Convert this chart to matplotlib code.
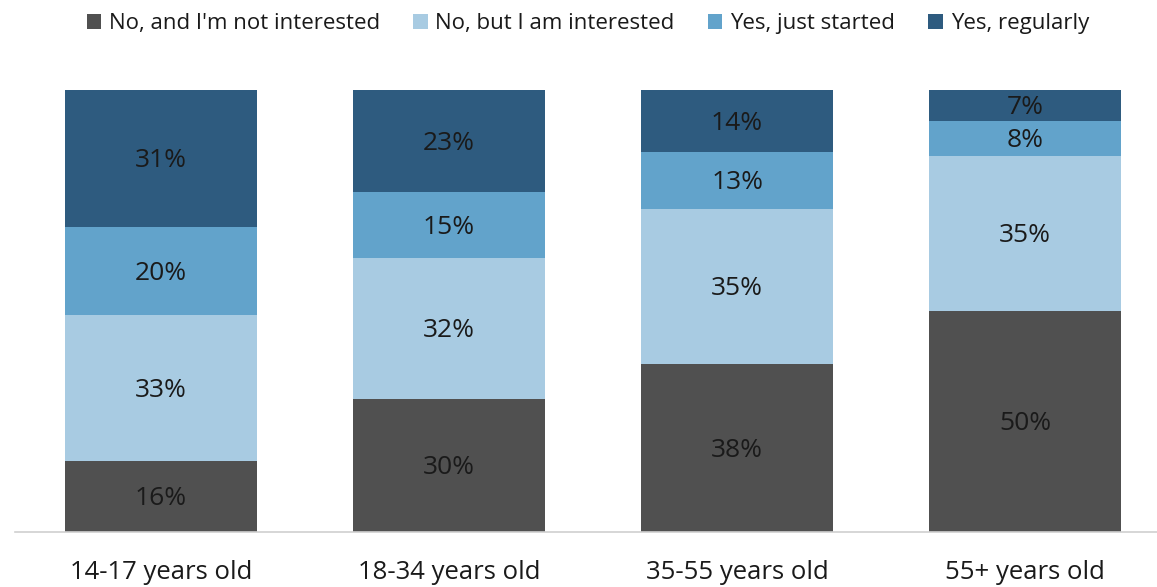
import matplotlib.pyplot as plt
from matplotlib.patches import Patch

plt.rcParams["font.family"] = ["Open Sans", "DejaVu Sans"]

groups = ["14-17 years old", "18-34 years old", "35-55 years old", "55+ years old"]
series_names = ["No, and I'm not interested", "No, but I am interested", "Yes, just started", "Yes, regularly"]
not_interested = [16, 30, 38, 50]
interested = [33, 32, 35, 35]
just_started = [20, 15, 13, 8]
regularly = [31, 23, 14, 7]

colors = ["#505050", "#a8cbe2", "#62a3cb", "#2e5b7f"]
series = [not_interested, interested, just_started, regularly]

W, H = 1157, 587
fig = plt.figure(figsize=(W / 100, H / 100), dpi=100)
ax = fig.add_axes([15 / W, 55 / H, 1 - 15 / W, (532 - 90) / H])

x = list(range(len(groups)))
bottoms = [0] * len(groups)
for vals, color in zip(series, colors):
    ax.bar(x, vals, bottom=bottoms, width=0.667, color=color, edgecolor="none")
    for xi, v, b in zip(x, vals, bottoms):
        ax.text(xi, b + v / 2 - 0.5, f"{v}%", ha="center", va="center", fontsize=19, color="#1a1a1a")
    bottoms = [b + v for b, v in zip(bottoms, vals)]

ax.set_xlim(-0.507, 3.458)
ax.set_ylim(0, 100)
ax.set_yticks([])
ax.set_xticks(x)
ax.set_xticklabels(groups, fontsize=18.5, color="#1a1a1a")
ax.tick_params(axis="x", length=0, pad=20)
for side in ["left", "right", "top"]:
    ax.spines[side].set_visible(False)
ax.spines["bottom"].set_color("#d0d0d0")
ax.spines["bottom"].set_linewidth(1.2)

handles = [Patch(facecolor=c, edgecolor="none") for c in colors]
fig.legend(handles, series_names, loc="upper center", bbox_to_anchor=(0.508, 1.012), ncol=4,
           frameon=False, fontsize=16, handlelength=0.65, handleheight=0.65,
           handletextpad=0.35, columnspacing=1.5, labelcolor="#1a1a1a")

fig.savefig("out.png", dpi=100)
